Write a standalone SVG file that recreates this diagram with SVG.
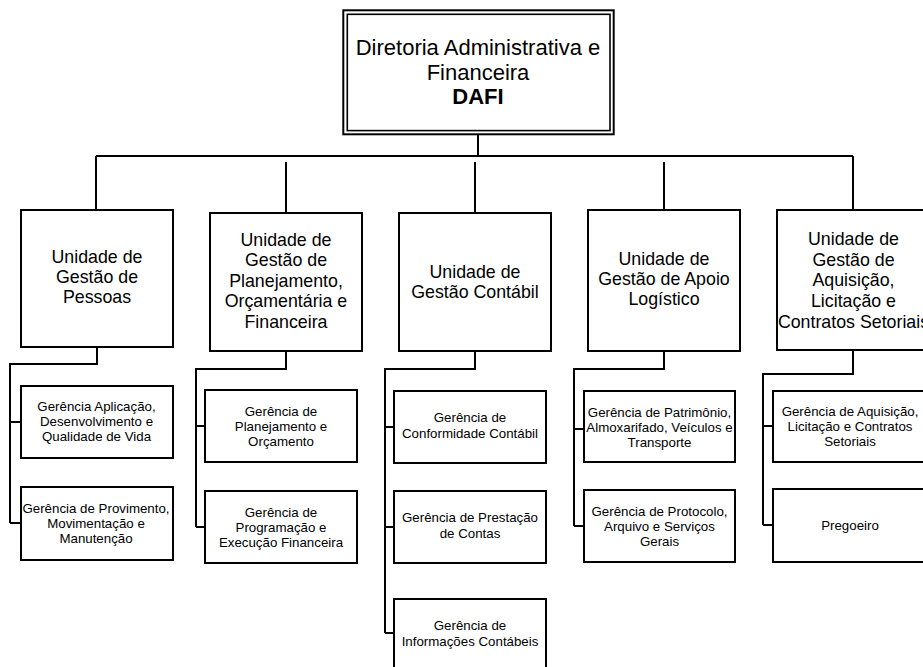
<svg xmlns="http://www.w3.org/2000/svg" width="923" height="667" viewBox="0 0 923 667">
<style>
.box{fill:#fff;stroke:#000;stroke-width:2}
.ln{fill:none;stroke:#000;stroke-width:2}
text{font-family:"Liberation Sans",Arial,sans-serif;fill:#000;text-anchor:middle}
.top{font-size:22px}
.unit{font-size:17.8px}
.sub{font-size:13.3px}
</style>
<rect x="0" y="0" width="923" height="667" fill="#fff"/>
<g id="connectors">
<path class="ln" d="M478,135V156M96,156H853M96,156V210M286,162V213M475,162V213M664,162V210M853,156V210"/>
<path class="ln" d="M97,347V364H10V523M10,422H21M10,523H21"/>
<path class="ln" d="M286,351V369H196V527M196,426H205M196,527H205"/>
<path class="ln" d="M475,351V369H385V633M385,427H394M385,527H394M385,633H394"/>
<path class="ln" d="M664,351V369H574V526M574,429H584M574,526H584"/>
<path class="ln" d="M853,350V374H763V525M763,426H773M763,525H773"/>
</g>
<g id="dafi">
<rect x="343.3" y="10.3" width="270.4" height="124" fill="#fff" stroke="#000" stroke-width="2"/>
<rect x="347.3" y="14.3" width="262.7" height="116.3" fill="none" stroke="#000" stroke-width="1.6"/>
<text class="top" x="478" y="55">Diretoria Administrativa e</text>
<text class="top" x="478" y="80">Financeira</text>
<text class="top" x="478" y="104" font-weight="bold">DAFI</text>
</g>
<g id="unit1">
<rect class="box" x="21" y="210" width="152" height="137"/>
<text class="unit" x="97" y="263.3">Unidade de</text>
<text class="unit" x="97" y="283.3">Gestão de</text>
<text class="unit" x="97" y="303.3">Pessoas</text>
</g>
<g id="unit2">
<rect class="box" x="210" y="213" width="152" height="138"/>
<text class="unit" x="286" y="245.5">Unidade de</text>
<text class="unit" x="286" y="266">Gestão de</text>
<text class="unit" x="286" y="286.5">Planejamento,</text>
<text class="unit" x="286" y="307">Orçamentária e</text>
<text class="unit" x="286" y="327.5">Financeira</text>
</g>
<g id="unit3">
<rect class="box" x="399" y="213" width="152" height="138"/>
<text class="unit" x="475" y="278.3">Unidade de</text>
<text class="unit" x="475" y="298.3">Gestão Contábil</text>
</g>
<g id="unit4">
<rect class="box" x="588" y="210" width="152" height="141"/>
<text class="unit" x="664" y="265">Unidade de</text>
<text class="unit" x="664" y="285">Gestão de Apoio</text>
<text class="unit" x="664" y="305">Logístico</text>
</g>
<g id="unit5">
<rect class="box" x="777" y="210" width="152" height="140"/>
<text class="unit" x="853.5" y="245">Unidade de</text>
<text class="unit" x="853.5" y="265.7">Gestão de</text>
<text class="unit" x="853.5" y="286.3">Aquisição,</text>
<text class="unit" x="853.5" y="307">Licitação e</text>
<text class="unit" x="853.5" y="327.7">Contratos Setoriais</text>
</g>
<g id="sub1a">
<rect class="box" x="21" y="386" width="152" height="72"/>
<text class="sub" x="96.5" y="411">Gerência Aplicação,</text>
<text class="sub" x="96.5" y="426">Desenvolvimento e</text>
<text class="sub" x="96.5" y="441">Qualidade de Vida</text>
</g>
<g id="sub1b">
<rect class="box" x="21" y="487" width="152" height="73"/>
<text class="sub" x="96" y="512.5">Gerência de Provimento,</text>
<text class="sub" x="96" y="527.5">Movimentação e</text>
<text class="sub" x="96" y="542.5">Manutenção</text>
</g>
<g id="sub2a">
<rect class="box" x="205" y="390" width="152" height="72"/>
<text class="sub" x="281" y="415.5">Gerência de</text>
<text class="sub" x="281" y="430.5">Planejamento e</text>
<text class="sub" x="281" y="445.5">Orçamento</text>
</g>
<g id="sub2b">
<rect class="box" x="205" y="491" width="152" height="72"/>
<text class="sub" x="281" y="516.5">Gerência de</text>
<text class="sub" x="281" y="531.5">Programação e</text>
<text class="sub" x="281" y="546.5">Execução Financeira</text>
</g>
<g id="sub3a">
<rect class="box" x="394" y="391" width="152" height="72"/>
<text class="sub" x="470" y="422">Gerência de</text>
<text class="sub" x="470" y="437.5">Conformidade Contábil</text>
</g>
<g id="sub3b">
<rect class="box" x="394" y="491" width="152" height="72"/>
<text class="sub" x="470" y="522">Gerência de Prestação</text>
<text class="sub" x="470" y="537.5">de Contas</text>
</g>
<g id="sub3c">
<rect class="box" x="394" y="599" width="152" height="72"/>
<text class="sub" x="470" y="630">Gerência de</text>
<text class="sub" x="470" y="645.5">Informações Contábeis</text>
</g>
<g id="sub4a">
<rect class="box" x="584" y="391" width="151" height="71"/>
<text class="sub" x="659.5" y="416.5">Gerência de Patrimônio,</text>
<text class="sub" x="659.5" y="431.5">Almoxarifado, Veículos e</text>
<text class="sub" x="659.5" y="446.5">Transporte</text>
</g>
<g id="sub4b">
<rect class="box" x="584" y="490" width="151" height="72"/>
<text class="sub" x="659.5" y="515.5">Gerência de Protocolo,</text>
<text class="sub" x="659.5" y="530.5">Arquivo e Serviços</text>
<text class="sub" x="659.5" y="545.5">Gerais</text>
</g>
<g id="sub5a">
<rect class="box" x="773" y="391" width="152" height="71"/>
<text class="sub" x="850" y="416">Gerência de Aquisição,</text>
<text class="sub" x="850" y="431">Licitação e Contratos</text>
<text class="sub" x="850" y="446">Setoriais</text>
</g>
<g id="sub5b">
<rect class="box" x="773" y="489" width="152" height="73"/>
<text class="sub" x="850" y="530">Pregoeiro</text>
</g>
</svg>
